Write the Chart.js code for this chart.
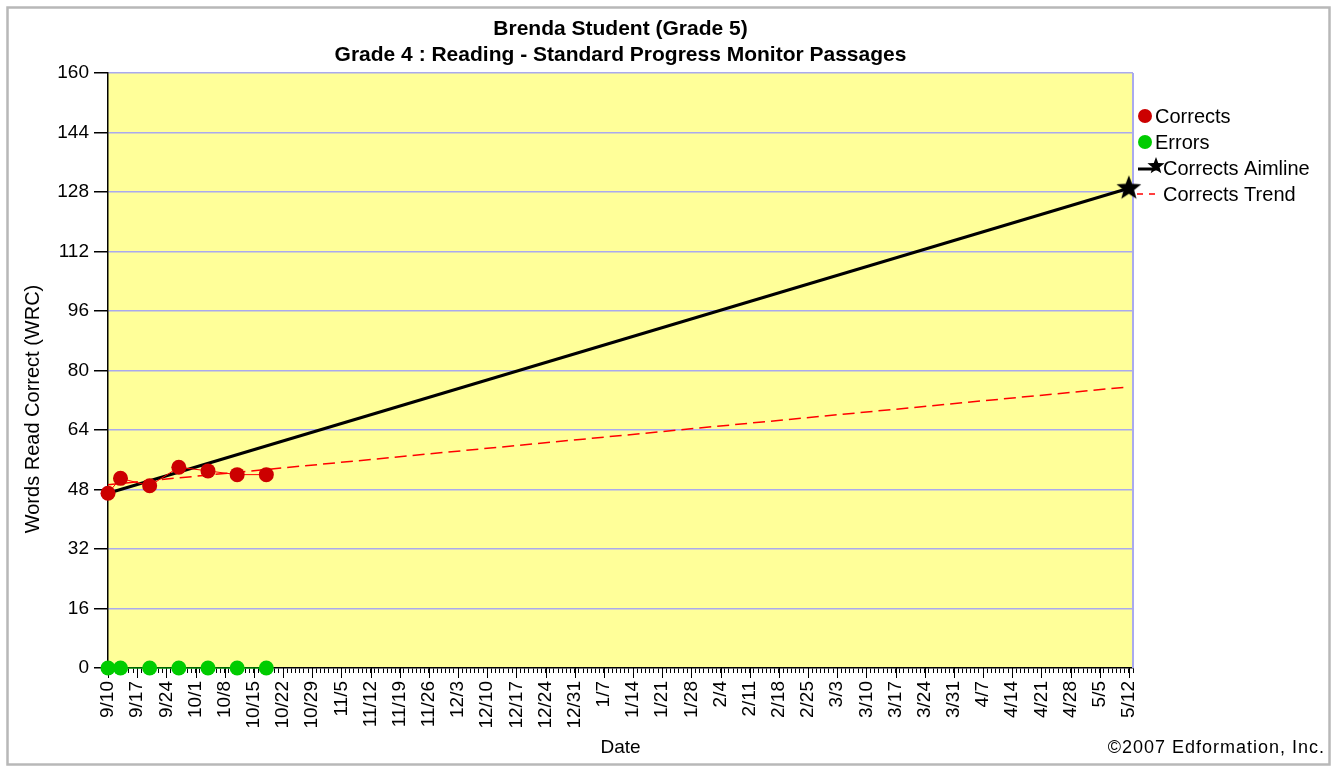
<!DOCTYPE html>
<html>
<head>
<meta charset="utf-8">
<title>Words Read Correct</title>
<script src="https://cdn.jsdelivr.net/npm/chart.js@4.4.0/dist/chart.umd.min.js"></script>
<style>
  html, body { margin: 0; padding: 0; background: #fff; }
  canvas { display: block; }
</style>
</head>
<body>
<canvas id="wrcChart" width="1336" height="772"></canvas>
<script>
// --- data ---
const weekLabels = ['9/10', '9/17', '9/24', '10/1', '10/8', '10/15', '10/22', '10/29', '11/5', '11/12',
  '11/19', '11/26', '12/3', '12/10', '12/17', '12/24', '12/31', '1/7', '1/14', '1/21', '1/28', '2/4',
  '2/11', '2/18', '2/25', '3/3', '3/10', '3/17', '3/24', '3/31', '4/7', '4/14', '4/21', '4/28', '5/5', '5/12'];
const yTicks = [0, 16, 32, 48, 64, 80, 96, 112, 128, 144, 160];

const scoreDates = ['2007-09-10', '2007-09-13', '2007-09-20', '2007-09-27', '2007-10-04', '2007-10-11', '2007-10-18'];
const correctsValues = [47, 51, 49, 54, 53, 52, 52];
const errorsValues = [0, 0, 0, 0, 0, 0, 0];

const lineDates = ['2007-09-10', '2008-05-12'];
const aimlineValues = [47, 129];
const trendValues = [49.3, 75.6];

const legendNames = ['Corrects', 'Errors', 'Corrects Aimline', 'Corrects Trend'];

// day number counted from the first week label (9/10)
const dayOf = (s) => Math.round((Date.parse(s) - Date.parse('2007-09-10')) / 86400000);
const toPoints = (dates, values) => values.map((v, i) => ({ x: dayOf(dates[i]), y: v }));

const FONT = "'Liberation Sans', Arial, sans-serif";
const gridBlue = '#aaaaee';

// filled five point star used for the aimline goal
const makeStar = (r) => {
    const c = document.createElement('canvas');
    c.width = c.height = r * 2 + 2;
    const g = c.getContext('2d');
    g.translate(r + 1, r + 1);
    g.beginPath();
    for (let i = 0; i < 10; i++) {
        const rad = i % 2 === 0 ? r : r * 0.42;
        const a = -Math.PI / 2 + i * Math.PI / 5;
        g.lineTo(rad * Math.cos(a), rad * Math.sin(a));
    }
    g.closePath();
    g.fillStyle = '#000';
    g.fill();
    return c;
};
const bigStar = makeStar(13);
const smallStar = makeStar(9);

// background, frame, right border of the plot
const backdrop = {
    id: 'backdrop',
    beforeDraw(chart) {
        const { ctx, chartArea: a } = chart;
        ctx.save();
        ctx.fillStyle = '#fff';
        ctx.fillRect(0, 0, chart.width, chart.height);
        ctx.strokeStyle = '#b8b8b8';
        ctx.lineWidth = 2.5;
        ctx.strokeRect(7.5, 7.5, chart.width - 14, chart.height - 15);
        ctx.fillStyle = '#ffff99';
        ctx.fillRect(a.left, a.top, a.right - a.left, a.bottom - a.top);
        ctx.restore();
    },
    beforeDatasetsDraw(chart) {
        const { ctx, chartArea: a } = chart;
        ctx.save();
        ctx.strokeStyle = gridBlue;
        ctx.lineWidth = 2;
        ctx.beginPath();
        ctx.moveTo(a.right, a.top);
        ctx.lineTo(a.right, a.bottom);
        ctx.stroke();
        // longer tick marks at each week
        const xs = chart.scales.x;
        ctx.strokeStyle = '#000';
        ctx.lineWidth = 1;
        weekLabels.forEach((lab, i) => {
            const px = Math.round(xs.getPixelForValue(i * 7)) + 0.5;
            ctx.beginPath();
            ctx.moveTo(px, a.bottom);
            ctx.lineTo(px, a.bottom + 10);
            ctx.stroke();
        });
        ctx.restore();
    }
};

// titles, legend and copyright line
const decorations = {
    id: 'decorations',
    afterDraw(chart) {
        const { ctx, chartArea: a } = chart;
        const sets = chart.data.datasets;
        const cx = (a.left + a.right) / 2;
        ctx.save();
        ctx.fillStyle = '#000';
        ctx.textAlign = 'center';
        ctx.textBaseline = 'middle';
        ctx.font = `bold 21px ${FONT}`;
        ctx.fillText('Brenda Student (Grade 5)', cx, 29);
        ctx.fillText('Grade 4 : Reading - Standard Progress Monitor Passages', cx, 55);

        // y axis title sits a little below the middle of the plot
        ctx.save();
        ctx.translate(33, 409);
        ctx.rotate(-Math.PI / 2);
        ctx.font = `20px ${FONT}`;
        ctx.fillText('Words Read Correct (WRC)', 0, 0);
        ctx.restore();

        // legend
        const lx = a.right + 12;
        const rows = [116, 142, 168, 194];
        ctx.font = `20px ${FONT}`;
        ctx.textAlign = 'left';
        [0, 1].forEach(k => {
            ctx.fillStyle = sets[k].pointBackgroundColor;
            ctx.beginPath();
            ctx.arc(lx, rows[k], 7, 0, Math.PI * 2);
            ctx.fill();
            ctx.fillStyle = '#000';
            ctx.fillText(legendNames[k], lx + 10, rows[k] + 1);
        });
        ctx.strokeStyle = sets[2].borderColor;
        ctx.lineWidth = 3;
        ctx.beginPath();
        ctx.moveTo(lx - 7, rows[2] + 1);
        ctx.lineTo(lx + 14, rows[2] + 1);
        ctx.stroke();
        ctx.drawImage(smallStar, lx + 11 - smallStar.width / 2, rows[2] - 2 - smallStar.height / 2);
        ctx.fillText(legendNames[2], lx + 18, rows[2] + 1);

        ctx.strokeStyle = sets[3].borderColor;
        ctx.lineWidth = 1.5;
        ctx.setLineDash([6, 6]);
        ctx.beginPath();
        ctx.moveTo(lx - 8, rows[3]);
        ctx.lineTo(lx + 14, rows[3]);
        ctx.stroke();
        ctx.setLineDash([]);
        ctx.fillText(legendNames[3], lx + 18, rows[3] + 1);

        // copyright
        ctx.font = `18px ${FONT}`;
        ctx.textAlign = 'right';
        if ('letterSpacing' in ctx) ctx.letterSpacing = '1px';
        ctx.fillText('\u00a92007 Edformation, Inc.', 1325, 748);
        ctx.restore();
    }
};

const lastDay = dayOf(lineDates[1]);

new Chart(document.getElementById('wrcChart'), {
    type: 'line',
    data: {
        datasets: [
            {
                label: legendNames[0],
                data: toPoints(scoreDates, correctsValues),
                borderColor: '#ff0000',
                borderWidth: 1,
                pointRadius: 7.5,
                pointBackgroundColor: '#cc0000',
                pointBorderColor: '#cc0000',
                pointBorderWidth: 0,
                clip: false
            },
            {
                label: legendNames[1],
                data: toPoints(scoreDates, errorsValues),
                borderColor: '#00cc00',
                borderWidth: 1,
                pointRadius: 7.5,
                pointBackgroundColor: '#00cc00',
                pointBorderColor: '#00cc00',
                pointBorderWidth: 0,
                clip: false
            },
            {
                label: legendNames[2],
                data: toPoints(lineDates, aimlineValues),
                borderColor: '#000000',
                borderWidth: 3,
                pointStyle: bigStar,
                pointRadius: [0, 12],
                clip: false
            },
            {
                label: legendNames[3],
                data: toPoints(lineDates, trendValues),
                borderColor: '#ff0000',
                borderWidth: 1.5,
                borderDash: [12, 6],
                pointRadius: 0
            }
        ]
    },
    options: {
        responsive: false,
        animation: false,
        layout: { padding: { left: 10, right: 203, top: 73, bottom: 10 } },
        plugins: {
            legend: { display: false },
            title: { display: false },
            tooltip: { enabled: false }
        },
        scales: {
            x: {
                type: 'linear',
                min: 0,
                max: lastDay + 1,
                afterFit: (s) => { s.height = 94; },
                grid: { drawOnChartArea: false, tickLength: 5, tickColor: '#000', lineWidth: 1 },
                border: { color: '#000', width: 1.5 },
                ticks: {
                    stepSize: 1,
                    autoSkip: false,
                    minRotation: 90,
                    maxRotation: 90,
                    padding: 8,
                    color: '#000',
                    font: { family: FONT, size: 19 },
                    callback: (v) => (v % 7 === 0 && weekLabels[v / 7]) ? weekLabels[v / 7] : ''
                },
                title: {
                    display: true,
                    text: 'Date',
                    color: '#000',
                    font: { family: FONT, size: 19 },
                    padding: { top: 0, bottom: 3 }
                }
            },
            y: {
                min: yTicks[0],
                max: yTicks[yTicks.length - 1],
                afterFit: (s) => { s.width = 98; },
                afterBuildTicks: (s) => { s.ticks = yTicks.map(v => ({ value: v })); },
                grid: {
                    color: (c) => c.tick && c.tick.value === 0 ? 'rgba(0,0,0,0)' : gridBlue,
                    lineWidth: 1.5,
                    tickColor: '#000',
                    tickLength: 14
                },
                border: { color: '#000', width: 1.5 },
                ticks: {
                    padding: 5,
                    color: '#000',
                    font: { family: FONT, size: 19 }
                }
            }
        }
    },
    plugins: [backdrop, decorations]
});
</script>
</body>
</html>
